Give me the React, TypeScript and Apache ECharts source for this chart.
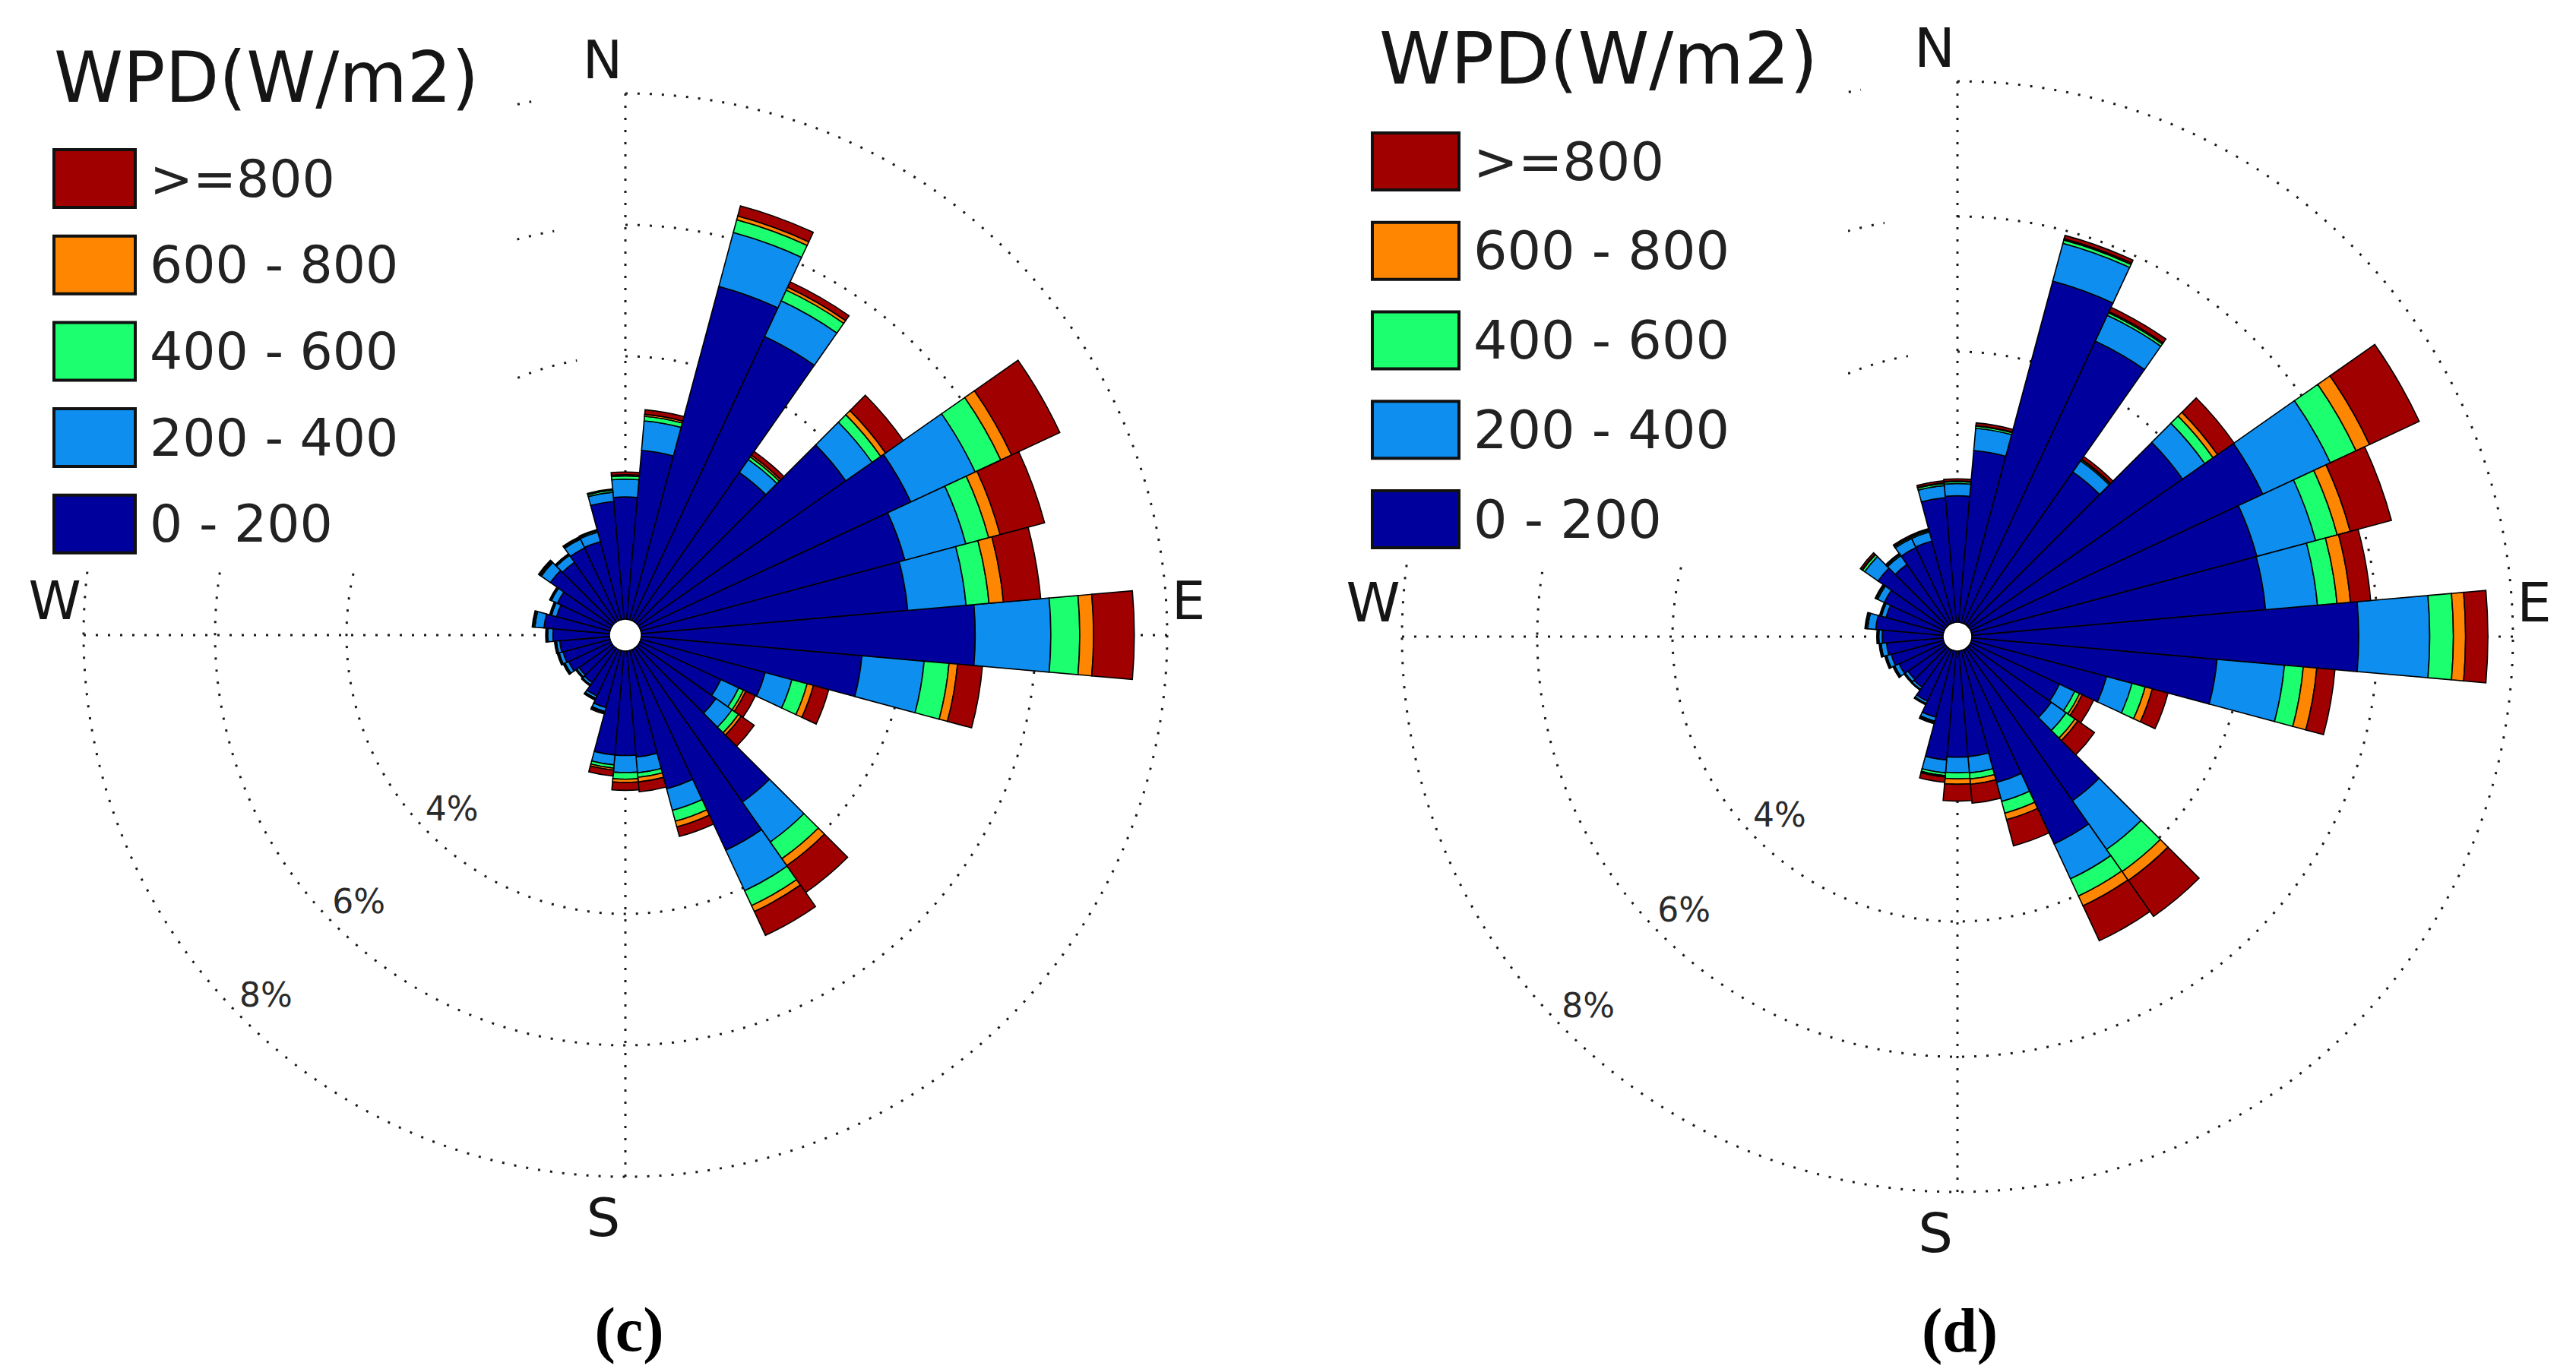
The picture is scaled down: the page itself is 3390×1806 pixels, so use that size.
import React, { useEffect, useRef } from "react";
import * as echarts from "echarts";

// Direction of each sector (degrees clockwise from North)
const DIRECTIONS = [
  "0", "10", "20", "30", "40", "50", "60", "70", "80", "90", "100", "110",
  "120", "130", "140", "150", "160", "170", "180", "190", "200", "210", "220", "230",
  "240", "250", "260", "270", "280", "290", "300", "310", "320", "330", "340", "350",
];

// Wind power density bins (stack order: inner -> outer)
const BIN_NAMES = ["0 - 200", "200 - 400", "400 - 600", "600 - 800", ">=800"];
const LEGEND_ORDER = [">=800", "600 - 800", "400 - 600", "200 - 400", "0 - 200"];
const BIN_COLORS = ["#00009c", "#0e8ff0", "#1cff6e", "#ff8600", "#a00000"];

// Panel (c): frequency (%) per direction for each bin
const C_0_200 = [1.86, 2.58, 5.25, 4.77, 2.78, 3.85, 4.55, 4.16, 4.07, 5.08, 3.37, 1.96, 1.36, 1.44, 2.86, 3.37, 2.18, 1.62, 1.59, 1.59, 0.9, 0.78, 0.64, 0.62, 0.71, 0.74, 0.76, 0.86, 1.0, 0.84, 0.9, 1.15, 1.11, 1.22, 1.23, 1.8];
const C_200_400 = [0.27, 0.45, 0.85, 0.6, 0.24, 0.49, 1.08, 0.96, 0.89, 1.15, 0.95, 0.42, 0.3, 0.3, 0.74, 0.68, 0.34, 0.24, 0.26, 0.15, 0.06, 0.04, 0.04, 0.04, 0.06, 0.06, 0.05, 0.08, 0.14, 0.08, 0.1, 0.17, 0.13, 0.15, 0.15, 0.14];
const C_400_600 = [0.05, 0.07, 0.2, 0.18, 0.05, 0.16, 0.43, 0.36, 0.35, 0.44, 0.38, 0.24, 0.08, 0.12, 0.31, 0.25, 0.17, 0.07, 0.1, 0.05, 0.01, 0.01, 0.01, 0.01, 0.01, 0.01, 0.01, 0.01, 0.02, 0.01, 0.01, 0.02, 0.01, 0.02, 0.02, 0.03];
const C_600_800 = [0.02, 0.03, 0.06, 0.05, 0.03, 0.09, 0.18, 0.18, 0.22, 0.21, 0.13, 0.1, 0.04, 0.05, 0.13, 0.1, 0.09, 0.07, 0.05, 0.03, 0.01, 0.01, 0, 0, 0.01, 0.01, 0.01, 0.01, 0.01, 0.01, 0.01, 0.01, 0.01, 0.01, 0.01, 0.01];
const C_800_UP = [0.04, 0.07, 0.16, 0.09, 0.07, 0.33, 0.81, 0.7, 0.57, 0.62, 0.38, 0.24, 0.16, 0.24, 0.5, 0.4, 0.15, 0.15, 0.12, 0.09, 0.02, 0.01, 0.01, 0.01, 0.01, 0.01, 0.01, 0.01, 0.01, 0.01, 0.01, 0.02, 0.01, 0.01, 0.01, 0.01];

// Panel (d)
const D_0_200 = [1.87, 2.55, 5.23, 4.61, 2.76, 3.85, 4.77, 4.37, 4.36, 5.72, 3.64, 2.07, 1.45, 1.48, 2.75, 3.17, 2.02, 1.57, 1.57, 1.62, 1.02, 0.84, 0.7, 0.68, 0.74, 0.8, 0.84, 0.9, 1.0, 0.88, 0.98, 1.22, 1.09, 1.24, 1.25, 1.85];
const D_200_400 = [0.18, 0.33, 0.58, 0.42, 0.2, 0.4, 1.1, 0.9, 0.77, 1.05, 1.0, 0.39, 0.25, 0.27, 0.88, 0.57, 0.29, 0.24, 0.23, 0.19, 0.06, 0.04, 0.04, 0.05, 0.07, 0.07, 0.08, 0.05, 0.12, 0.07, 0.11, 0.24, 0.16, 0.15, 0.14, 0.18];
const D_400_600 = [0.03, 0.03, 0.05, 0.04, 0.02, 0.15, 0.42, 0.33, 0.29, 0.35, 0.28, 0.2, 0.08, 0.16, 0.4, 0.28, 0.18, 0.09, 0.09, 0.04, 0.01, 0.01, 0.01, 0.01, 0.01, 0.01, 0.01, 0.01, 0.02, 0.01, 0.02, 0.04, 0.02, 0.02, 0.02, 0.03];
const D_600_800 = [0.01, 0.01, 0.02, 0.02, 0.01, 0.08, 0.22, 0.2, 0.2, 0.18, 0.2, 0.11, 0.04, 0.05, 0.16, 0.16, 0.1, 0.08, 0.08, 0.02, 0.01, 0, 0, 0, 0.01, 0.01, 0.01, 0.01, 0.01, 0.01, 0.01, 0.01, 0.01, 0.01, 0.01, 0.01];
const D_800_UP = [0.03, 0.04, 0.05, 0.07, 0.05, 0.3, 0.81, 0.63, 0.3, 0.33, 0.27, 0.24, 0.19, 0.3, 0.65, 0.57, 0.4, 0.28, 0.25, 0.08, 0.02, 0.01, 0, 0.01, 0.01, 0.01, 0.01, 0.01, 0.01, 0.01, 0.01, 0.03, 0.01, 0.02, 0.02, 0.03];

const RING_LABELS = [4, 6, 8];
const RADIUS_MAX = 8;
const TITLE = "WPD(W/m2)";

const PANELS = [
  {
    bins: [C_0_200, C_200_400, C_400_600, C_600_800, C_800_UP],
    cx: 823, cy: 836, r0: 21, R: 713,
    caption: "(c)", capX: 828, capY: 1750,
    titleX: 71, titleY: 102, titleSize: 92,
    legendLeft: 69, legendTop: 195, itemW: 107, itemH: 76, itemGap: 33.7, legendFont: 68,
    cover: [0, 0, 672, 749], compassFont: 70,
  },
  {
    bins: [D_0_200, D_200_400, D_400_600, D_600_800, D_800_UP],
    cx: 2576, cy: 838, r0: 19, R: 731,
    caption: "(d)", capX: 2579, capY: 1751,
    titleX: 1815, titleY: 77, titleSize: 95,
    legendLeft: 1804, legendTop: 173, itemW: 114, itemH: 75, itemGap: 38.75, legendFont: 70,
    cover: [1700, 0, 732, 743], compassFont: 72,
  },
];

const FONT = "DejaVu Sans";
const DOT = { color: "#1a1a1a", width: 3, type: [3, 13] as any };

function buildOption() {
  const graphic: any[] = [];
  PANELS.forEach((p) => {
    const k = (p.R - p.r0) / RADIUS_MAX;
    graphic.push({
      type: "rect", z: 1, silent: true,
      shape: { x: p.cover[0], y: p.cover[1], width: p.cover[2], height: p.cover[3] },
      style: { fill: "#ffffff" },
    });
    graphic.push({
      type: "text", z: 20, x: p.titleX, y: p.titleY,
      style: { text: TITLE, fontFamily: FONT, fontSize: p.titleSize, fill: "#151515", align: "left", verticalAlign: "middle" },
    });
    const compass = [
      { t: "N", x: p.cx - 30, y: p.cy - p.R - 44 },
      { t: "S", x: p.cx - 29, y: p.cy + p.R + 54 },
      { t: "W", x: p.cx - p.R - 38, y: p.cy - 45 },
      { t: "E", x: p.cx + p.R + 28, y: p.cy - 45 },
    ];
    compass.forEach((c) =>
      graphic.push({
        type: "text", z: 20, x: c.x, y: c.y,
        style: { text: c.t, fontFamily: FONT, fontSize: p.compassFont, fill: "#151515", align: "center", verticalAlign: "middle" },
      })
    );
    RING_LABELS.forEach((v) => {
      const r = p.r0 + k * v - 44;
      graphic.push({
        type: "text", z: 20, x: p.cx - r * Math.SQRT1_2, y: p.cy + r * Math.SQRT1_2,
        style: { text: v + "%", fontFamily: FONT, fontSize: 44, fill: "#2a2a2a", align: "center", verticalAlign: "middle" },
      });
    });
    graphic.push({
      type: "text", z: 20, x: p.capX, y: p.capY,
      style: { text: p.caption, fontFamily: "Liberation Serif", fontWeight: "bold", fontSize: 82, fill: "#000", align: "center", verticalAlign: "middle" },
    });
  });

  return {
    animation: false,
    backgroundColor: "#ffffff",
    polar: PANELS.map((p) => ({ center: [p.cx, p.cy], radius: [p.r0, p.R] })),
    angleAxis: PANELS.map((p, i) => ({
      polarIndex: i,
      type: "category",
      data: DIRECTIONS,
      boundaryGap: false,
      startAngle: 90,
      clockwise: true,
      axisLine: { show: false },
      axisTick: { show: false, interval: (idx: number) => idx % 9 === 0 },
      axisLabel: { show: false },
      splitLine: { show: true, lineStyle: DOT },
      splitArea: { show: false },
    })),
    radiusAxis: PANELS.map((p, i) => ({
      polarIndex: i,
      type: "value",
      min: 0,
      max: RADIUS_MAX,
      interval: 2,
      axisLine: { show: false },
      axisTick: { show: false },
      axisLabel: { show: false },
      splitLine: {
        show: true,
        lineStyle: { ...DOT, color: ["rgba(0,0,0,0)", "rgba(0,0,0,0)", "#1a1a1a", "#1a1a1a", "#1a1a1a"] },
      },
    })),
    legend: PANELS.map((p) => ({
      orient: "vertical",
      left: p.legendLeft,
      top: p.legendTop,
      padding: 0,
      itemWidth: p.itemW,
      itemHeight: p.itemH,
      itemGap: p.itemGap,
      icon: "rect",
      selectedMode: false,
      data: LEGEND_ORDER,
      z: 10,
      itemStyle: { borderColor: "#111", borderWidth: 4 },
      textStyle: { fontFamily: FONT, fontSize: p.legendFont, color: "#222", padding: [0, 0, 0, 14] },
    })),
    series: PANELS.flatMap((p, i) =>
      BIN_NAMES.map((name, b) => ({
        type: "bar",
        name,
        coordinateSystem: "polar",
        polarIndex: i,
        stack: "rose" + i,
        data: p.bins[b],
        barCategoryGap: "0%",
        silent: true,
        itemStyle: { color: BIN_COLORS[b], borderColor: "#000", borderWidth: 1.6 },
      }))
    ),
    graphic,
  };
}

export default function App() {
  const ref = useRef<HTMLDivElement>(null);
  useEffect(() => {
    if (!ref.current) return;
    const chart = echarts.init(ref.current, null, { renderer: "svg" });
    chart.setOption(buildOption() as any);
    return () => chart.dispose();
  }, []);
  return (
    <div
      ref={ref}
      style={{ position: "fixed", left: 0, top: 0, width: 3390, height: 1806, background: "#fff" }}
    />
  );
}
